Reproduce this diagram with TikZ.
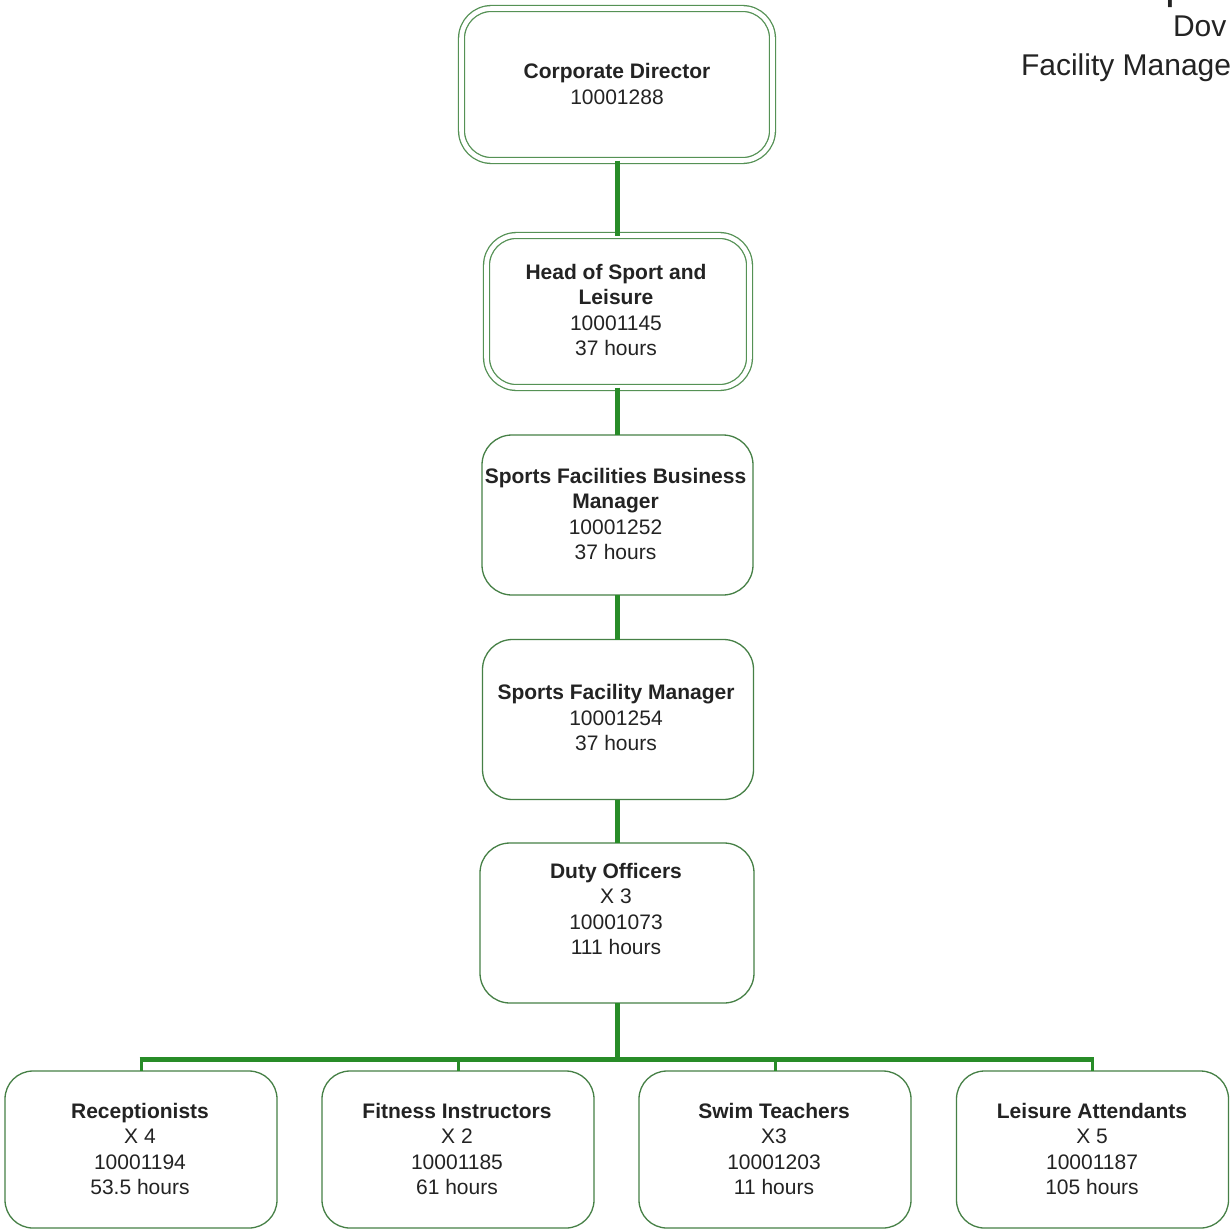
\documentclass[tikz,border=0pt]{standalone}
\usepackage{fontspec}
\setmainfont{Liberation Sans}
\definecolor{linkgreen}{RGB}{40,140,40}
\definecolor{boxgreen}{RGB}{70,128,70}
\definecolor{dblgreen}{RGB}{85,145,85}
\definecolor{inktext}{RGB}{35,35,35}
\begin{document}
\begin{tikzpicture}[x=1pt,y=-1pt,
  every node/.style={inner sep=0pt, outer sep=0pt},
  card/.style={draw=boxgreen, line width=1.3pt, rounded corners=30pt, fill=white,
               minimum width=271pt, minimum height=160pt},
  dcard/.style={draw=dblgreen, line width=1.3pt, double=white, double distance=4.6pt,
               rounded corners=30pt},
  lowcard/.style={card, minimum width=272pt, minimum height=157pt, rounded corners=28pt},
  txt/.style={align=center, text=inktext, font=\fontsize{21}{25.4}\selectfont},
  link/.style={draw=linkgreen, line width=5pt},
  drop/.style={draw=linkgreen, line width=3pt},
  heading/.style={anchor=base west, text=inktext, font=\fontsize{30}{36}\selectfont}
]
\useasboundingbox (0,0) rectangle (1229,1231);
\clip (0,0) rectangle (1229,1231);
\fill[white] (0,0) rectangle (1229,1231);

% heading, running off the top and right edges
\node[anchor=base west, text=inktext, font=\fontsize{44}{50}\selectfont] (htop) at (1165,-1) {p};
\node[heading] (hplace) at (1173,37) {Dov};
\node[heading] (hunit) at (1021,76) {Facility Manage};

% boxes
\node[dcard, minimum width=311pt, minimum height=152pt] (cd) at (617,84.5) {};
\node[dcard, minimum width=263pt, minimum height=152pt] (hsl) at (618,311.5) {};
\node[card] (sfbm) at (617.5,515) {};
\node[card] (sfm) at (618,719.5) {};
\node[card, minimum width=274pt] (duty) at (617,923) {};
\node[lowcard] (rec) at (141,1149.5) {};
\node[lowcard] (fit) at (458,1149.5) {};
\node[lowcard] (swim) at (775,1149.5) {};
\node[lowcard] (leis) at (1092.5,1149.5) {};

% box texts
\node[txt] (cdt) at (617,84) {\textbf{Corporate Director}\\10001288};
\node[txt] (hslt) at (616,310) {\textbf{Head of Sport and}\\\textbf{Leisure}\\10001145\\37 hours};
\node[txt] (sfbmt) at (615.5,514) {\textbf{Sports Facilities Business}\\\textbf{Manager}\\10001252\\37 hours};
\node[txt] (sfmt) at (616,717.5) {\textbf{Sports Facility Manager}\\10001254\\37 hours};
\node[txt] (dutyt) at (616,909) {\textbf{Duty Officers}\\X 3\\10001073\\111 hours};
\node[txt] (rect) at (140,1149) {\textbf{Receptionists}\\X 4\\10001194\\53.5 hours};
\node[txt] (fitt) at (457,1149) {\textbf{Fitness Instructors}\\X 2\\10001185\\61 hours};
\node[txt] (swimt) at (774,1149) {\textbf{Swim Teachers}\\X3\\10001203\\11 hours};
\node[txt] (leist) at (1092,1149) {\textbf{Leisure Attendants}\\X 5\\10001187\\105 hours};

% reporting lines
\coordinate (bus) at (617,1059);
\draw[link] (cd.south) -- (hsl.north -| cd.south);
\draw[link] (hsl.south -| cd.south) -- (sfbm.north -| cd.south);
\draw[link] (sfbm.south -| cd.south) -- (sfm.north -| cd.south);
\draw[link] (sfm.south -| cd.south) -- (duty.north -| cd.south);
\draw[link] (duty.south -| cd.south) -- (bus);
\draw[link] ([xshift=-1.5pt]rec.north |- bus) -- ([xshift=1.5pt]leis.north |- bus);
\draw[drop] (rec.north |- bus) -- (rec.north);
\draw[drop] (fit.north |- bus) -- (fit.north);
\draw[drop] (swim.north |- bus) -- (swim.north);
\draw[drop] (leis.north |- bus) -- (leis.north);
\end{tikzpicture}
\end{document}
